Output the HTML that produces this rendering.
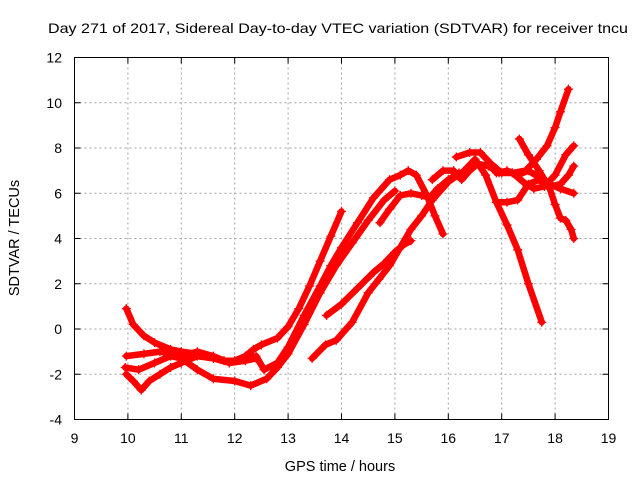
<!DOCTYPE html>
<html><head><meta charset="utf-8"><style>
html,body{margin:0;padding:0;background:#fff;}
svg{display:block;font-family:"Liberation Sans",sans-serif;}
</style></head><body>
<svg id="chart" width="640" height="480" viewBox="0 0 640 480">
<rect width="640" height="480" fill="#fff"/>
<text x="48" y="33" font-size="14" textLength="580" lengthAdjust="spacingAndGlyphs" fill="#000">Day 271 of 2017, Sidereal Day-to-day VTEC variation (SDTVAR) for receiver tncu</text>
<g id="grid"></g>
<g id="series"></g>
<rect x="74.5" y="57.5" width="534" height="362" fill="none" stroke="#000" stroke-width="1"/>
<g id="axes"></g>
<text x="340" y="471" font-size="14.5" text-anchor="middle">GPS time / hours</text>
<text x="19" y="238" font-size="14.5" text-anchor="middle" transform="rotate(-90 19 238)">SDTVAR / TECUs</text>
</svg>
<script>
const xTicks=[9,10,11,12,13,14,15,16,17,18,19];
const yTicks=[-4,-2,0,2,4,6,8,10,12];
const trackA=[[9.97,0.9],[10.1,0.2],[10.3,-0.3],[10.5,-0.6],[10.8,-0.9],[11,-1.0],[11.3,-1.1],[11.5,-1.2],[11.8,-1.4],[12,-1.4],[12.2,-1.2],[12.35,-0.9],[12.5,-0.7],[12.8,-0.4],[13,0.1],[13.2,0.9],[13.4,1.9],[13.6,3.0],[13.8,4.1],[14,5.2]];
const trackB=[[9.97,-1.2],[10.3,-1.1],[10.6,-1.0],[11,-1.2],[11.3,-1.0],[11.6,-1.2],[11.9,-1.5],[12.2,-1.4],[12.4,-1.2],[12.55,-1.8],[12.8,-1.5],[13,-0.8],[13.3,0.6],[13.6,1.9],[13.8,2.8],[14,3.6],[14.3,4.7],[14.6,5.8],[14.9,6.6],[15.1,6.8],[15.25,7.0],[15.4,6.8],[15.6,5.9],[15.75,5.0],[15.9,4.2]];
const trackC=[[9.97,-2.0],[10.1,-2.3],[10.25,-2.7],[10.4,-2.3],[10.6,-2.0],[10.8,-1.7],[11,-1.5],[11.3,-1.2],[11.6,-1.3],[11.9,-1.5],[12.2,-1.4],[12.4,-1.3]];
const trackD=[[9.95,-1.7],[10.2,-1.8],[10.5,-1.5],[10.8,-1.2],[11,-1.3],[11.3,-1.8],[11.6,-2.2],[12,-2.3],[12.3,-2.5],[12.6,-2.2],[12.8,-1.7],[13,-1.1],[13.3,0.2],[13.6,1.6],[13.9,2.8],[14.2,3.8],[14.5,4.8],[14.8,5.7],[15,6.1]];
const trackE=[[13.45,-1.3],[13.7,-0.7],[13.9,-0.5],[14.2,0.3],[14.5,1.6],[14.7,2.2],[14.9,2.8],[15.1,3.6],[15.3,4.4],[15.5,5.0],[15.7,5.7],[16,6.5],[16.3,7.0],[16.5,7.5],[16.7,6.8],[16.9,5.6],[17.1,4.6],[17.3,3.5],[17.5,2.0],[17.75,0.3]];
const trackF=[[13.72,0.6],[14.0,1.1],[14.3,1.8],[14.6,2.5],[14.8,2.9],[15.0,3.4],[15.15,3.7],[15.3,3.9]];
const trackG=[[14.72,4.7],[14.9,5.3],[15.1,5.9],[15.3,6.0],[15.5,5.9],[15.65,5.8],[15.8,6.2],[16,6.6],[16.2,6.9]];
const trackH=[[15.7,6.6],[15.9,7.0],[16.1,7.0],[16.25,6.6],[16.4,7.0],[16.55,7.3],[16.75,7.2],[16.95,6.9],[17.1,7.0],[17.3,6.8],[17.5,7.0],[17.7,6.7],[17.9,6.4],[18.1,6.2],[18.35,6.0]];
const trackI=[[16.15,7.6],[16.4,7.8],[16.6,7.8],[16.8,7.3],[17.0,6.9],[17.2,6.9],[17.4,6.5],[17.6,6.2],[17.8,6.3],[18.0,6.8],[18.2,7.7],[18.35,8.1]];
const trackJ=[[17.33,8.4],[17.5,7.7],[17.7,7.0],[17.9,6.2],[18.0,5.5],[18.1,4.9],[18.2,4.8],[18.3,4.4],[18.35,4.0]];
const trackK=[[16.9,6.9],[17.2,6.9],[17.45,7.0],[17.65,7.5],[17.85,8.1],[18.0,8.9],[18.1,9.6],[18.25,10.6]];
const trackL=[[16.9,5.6],[17.1,5.6],[17.3,5.7],[17.5,6.4],[17.7,6.6],[17.9,6.3],[18.1,6.4],[18.25,6.8],[18.35,7.2]];
const allTracks=[trackA,trackB,trackC,trackD,trackE,trackF,trackG,trackH,trackI,trackJ,trackK,trackL];

const NS='http://www.w3.org/2000/svg';
const X0=74.5,X1=608.5,Y0=419.5,Y1=57.5;
function sx(h){return X0+(h-9)/(19-9)*(X1-X0);}
function sy(v){return Y0-(v+4)/(12+4)*(Y0-Y1);}
function mk(t,a){const e=document.createElementNS(NS,t);for(const k in a)e.setAttribute(k,a[k]);return e;}
const grid=document.getElementById('grid'),axes=document.getElementById('axes'),ser=document.getElementById('series');
xTicks.forEach(t=>{const x=sx(t);
 if(t>9&&t<19){const g=mk('line',{x1:x,x2:x,y1:Y1,y2:Y0,stroke:'#a0a0a0','stroke-dasharray':'2,3'});grid.appendChild(g);}
 const tk=mk('path',{d:`M${x},${Y0}v-6M${x},${Y1}v6`,stroke:'#000'});axes.appendChild(tk);
 const l=mk('text',{x:x,y:443,'font-size':'14','text-anchor':'middle'});l.textContent=t;axes.appendChild(l);});
yTicks.forEach(t=>{const y=sy(t);
 if(t>-4&&t<12){const g=mk('line',{x1:X0,x2:X1,y1:y,y2:y,stroke:'#a0a0a0','stroke-dasharray':'2,3'});grid.appendChild(g);}
 const tk=mk('path',{d:`M${X0},${y}h6M${X1},${y}h-6`,stroke:'#000'});axes.appendChild(tk);
 const l=mk('text',{x:62,y:y+5,'font-size':'14','text-anchor':'end'});l.textContent=t;axes.appendChild(l);});
allTracks.forEach((tr,i)=>{
 const pts=tr.map(p=>sx(p[0]).toFixed(1)+','+sy(p[1]).toFixed(1)).join(' ');
 const pl=mk('polyline',{points:pts,fill:'none',stroke:'#ff0000','stroke-width':'6.5','stroke-linejoin':'round','stroke-linecap':'round'});
 
 
 ser.appendChild(pl);
 tr.forEach(p=>{const x=sx(p[0]),y=sy(p[1]);
  const m=mk('path',{d:`M${x-4.5},${y}h9M${x},${y-4.5}v9`,stroke:'#ff0000','stroke-width':'1.3'});
  
  
  ser.appendChild(m);});
});
</script>
</body></html>
